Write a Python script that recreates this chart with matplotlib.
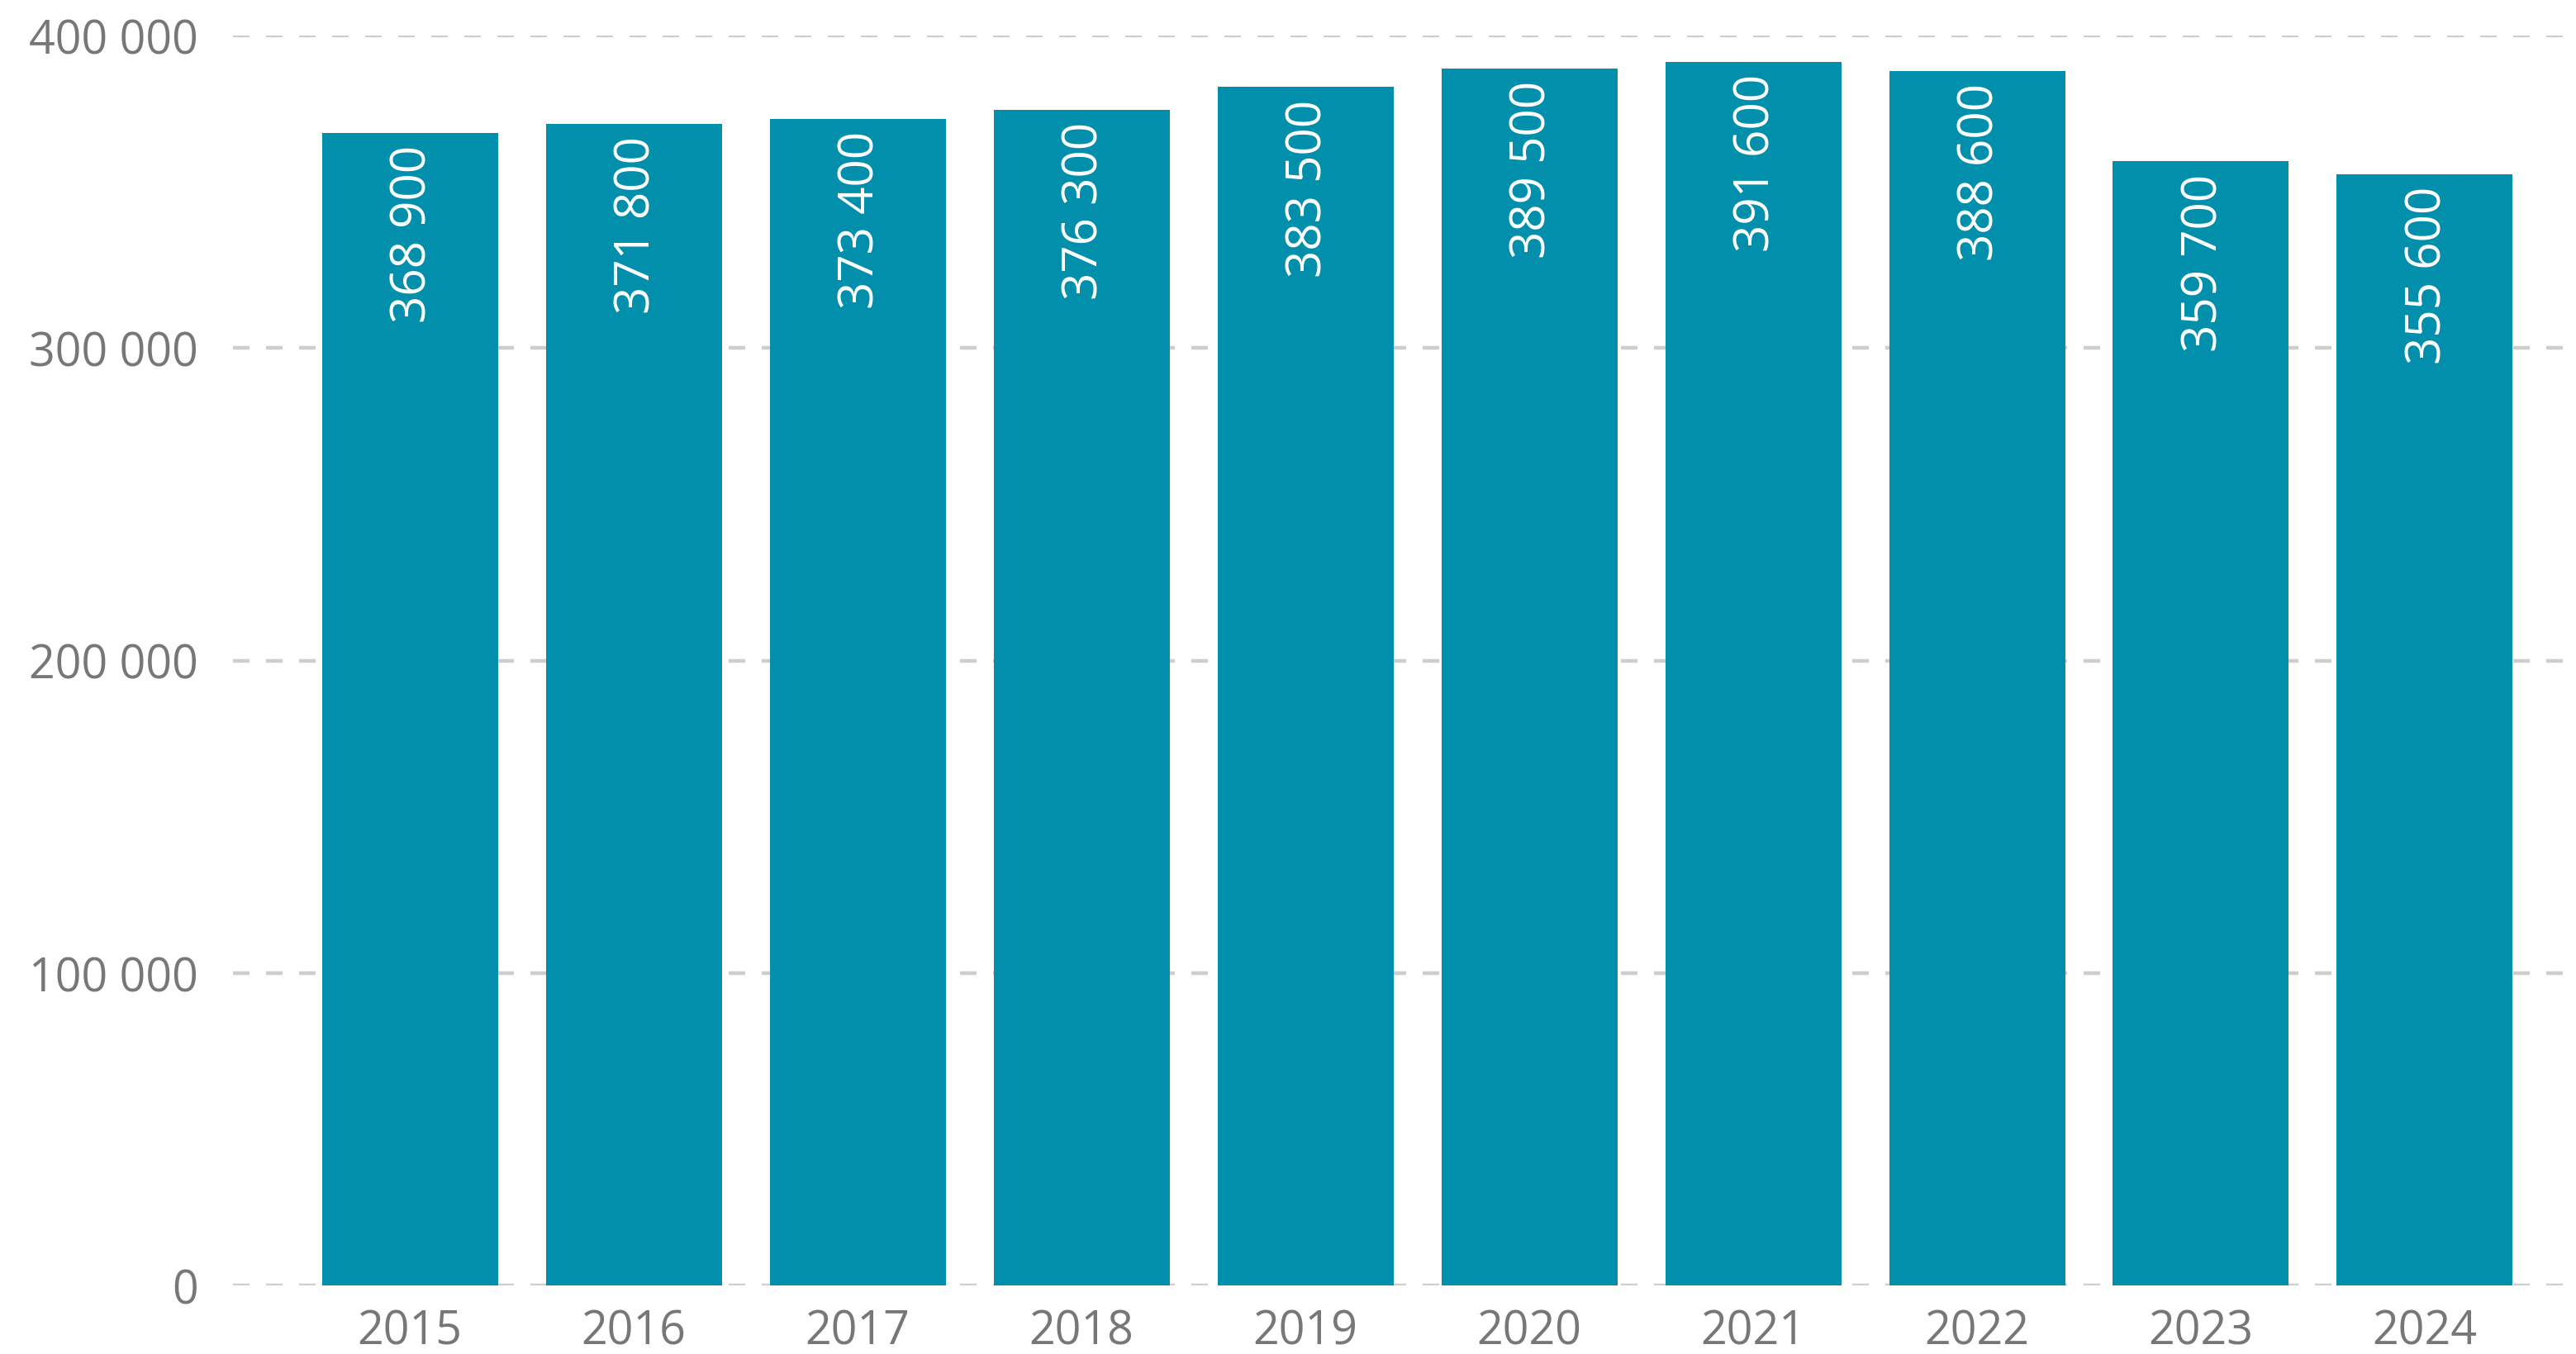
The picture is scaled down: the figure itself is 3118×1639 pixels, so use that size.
import matplotlib
matplotlib.use("Agg")
import matplotlib.pyplot as plt
from matplotlib.ticker import FuncFormatter

years = ["2015", "2016", "2017", "2018", "2019", "2020", "2021", "2022", "2023", "2024"]
values = [368900, 371800, 373400, 376300, 383500, 389500, 391600, 388600, 359700, 355600]
yticks = [0, 100000, 200000, 300000, 400000]

bar_color = "#018fab"
text_gray = "#777777"
grid_gray = "#cdcdcd"

plt.rcParams['font.family'] = ['Open Sans', 'DejaVu Sans']


def spaced(v, pos=None):
    # thousands separated by a space, like "400 000"
    return format(int(v), ",").replace(",", " ")


fig = plt.figure(figsize=(15.59, 8.2), dpi=200)
ax = fig.add_axes([282/3118, 1 - 1557/1640, (3103-282)/3118, (1557-44)/1640])

x = list(range(len(years)))
bars = ax.bar(x, values, width=0.786, color=bar_color, zorder=2)

for xi, v in zip(x, values):
    ax.annotate(spaced(v), (xi, v), xytext=(1.5, -5), textcoords="offset points",
                rotation=90, ha="center", va="top", color="white", fontsize=21)

ax.set_xlim(-0.79, 9.62)
ax.set_ylim(0, 400000)
ax.set_yticks(yticks)
ax.yaxis.set_major_formatter(FuncFormatter(spaced))
ax.set_xticks(x)
ax.set_xticklabels(years)

ax.yaxis.grid(True, color=grid_gray, linewidth=1.6, linestyle=(0, (4.5, 4.5)), zorder=0)
ax.set_axisbelow(True)
for s in ax.spines.values():
    s.set_visible(False)
ax.tick_params(axis="both", length=0, colors=text_gray, labelsize=20)
ax.tick_params(axis="y", pad=15)
ax.tick_params(axis="x", pad=10)

fig.savefig("out.png", dpi=200)
